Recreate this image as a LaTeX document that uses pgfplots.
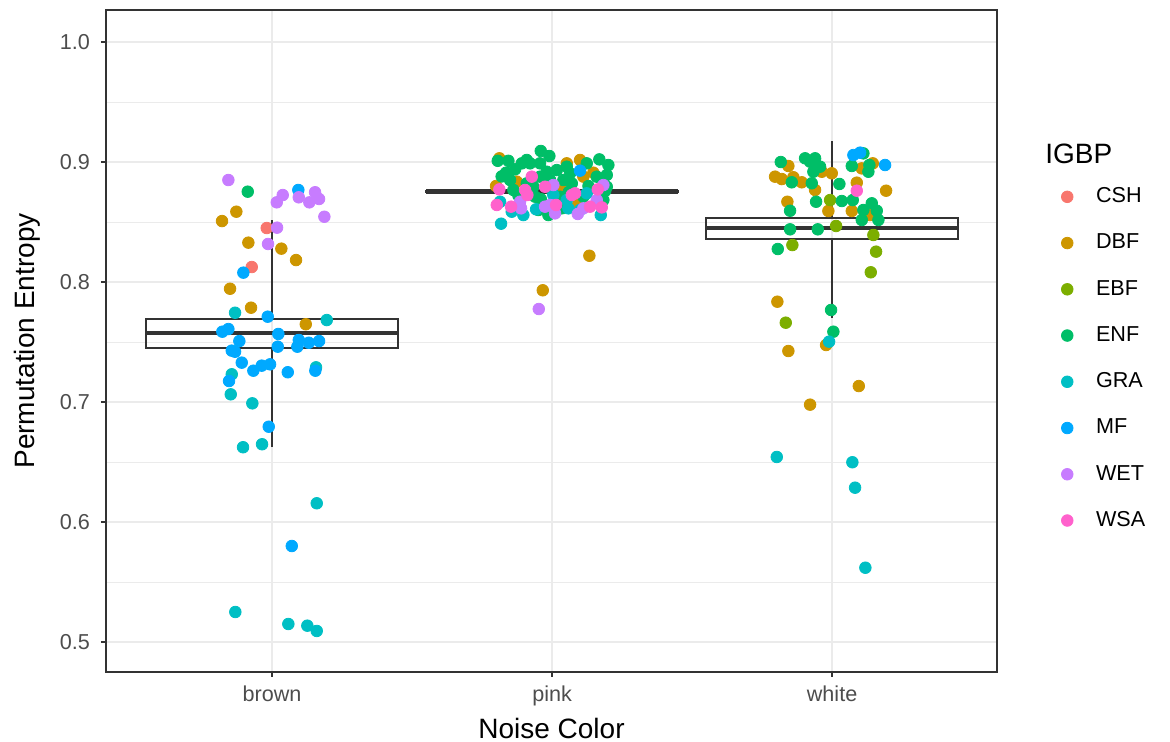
\documentclass[border=0pt]{standalone}
\usepackage{fontspec}
\setmainfont{Liberation Sans}
\usepackage{pgfplots}
\pgfplotsset{compat=1.18}
\definecolor{cCSH}{HTML}{F8766D}
\definecolor{cDBF}{HTML}{CD9600}
\definecolor{cEBF}{HTML}{7CAE00}
\definecolor{cENF}{HTML}{00BE67}
\definecolor{cGRA}{HTML}{00BFC4}
\definecolor{cMF}{HTML}{00A9FF}
\definecolor{cWET}{HTML}{C77CFF}
\definecolor{cWSA}{HTML}{FF61CC}
\definecolor{c33}{HTML}{333333}
\definecolor{c4d}{HTML}{4D4D4D}
\definecolor{gridc}{HTML}{EBEBEB}
\pgfplotsset{
  pt/.style={only marks, mark=*, mark size=2.9pt, mark options={draw=none, fill=#1}, color=#1},
  bx/.style={forget plot, color=c33, line width=1.1pt, mark=none},
  md/.style={forget plot, color=c33, line width=2.2pt, mark=none},
}
\begin{document}
\begin{tikzpicture}
\path[use as bounding box] (-53pt,-35pt) rectangle (532pt,336pt);
\begin{axis}[
  name=ax,
  at={(0,0)}, anchor=south west, scale only axis, width=445.5pt, height=331pt,
  xmin=-0.593, xmax=2.589, ymin=0.475, ymax=1.0267,
  xtick={0,1,2}, xticklabels={brown,pink,white},
  ytick={0.5,0.6,0.7,0.8,0.9,1.0},
  minor ytick={0.55,0.65,0.75,0.85,0.95},
  yticklabel style={/pgf/number format/fixed, /pgf/number format/precision=1, /pgf/number format/fixed zerofill, xshift=-2pt},
  xticklabel style={yshift=-1pt},
  /pgf/number format/assume math mode=true,
  grid=both,
  major grid style={color=gridc, line width=1pt},
  minor grid style={color=gridc, line width=0.5pt},
  minor tick length=0pt, major tick length=2.5pt, tick align=outside, tick pos=left,
  tick style={color=c33, line width=0.8pt},
  axis line style={color=c33, line width=0.8pt},
  ticklabel style={font=\fontsize{10.8}{12}\selectfont, color=c4d},
  xlabel={Noise Color}, ylabel={Permutation Entropy},
  label style={font=\fontsize{14}{16}\selectfont},
  xlabel style={at={(axis description cs:0.5,-0.0997)}, anchor=base},
  ylabel style={at={(axis description cs:-0.0887,0.5)}, anchor=center},
  legend style={at={(axis description cs:1.0564,0.7527)}, anchor=north west, draw=none, fill=none,
    inner sep=0pt, outer sep=0pt, row sep=0pt, font=\fontsize{10.8}{12}\selectfont,
    nodes={inner sep=0pt}},
  legend cell align=left,
  legend image code/.code={\path[draw=none,fill=none] (0pt,-11.56pt) rectangle (24.4pt,11.56pt); \draw[#1] plot coordinates {(10pt,0pt)};},
]
% boxplots: brown
\addplot[bx] coordinates {(-0.45,0.745) (0.45,0.745) (0.45,0.769) (-0.45,0.769)} -- cycle;
\addplot[bx] coordinates {(0,0.6625) (0,0.745)};
\addplot[bx] coordinates {(0,0.769) (0,0.8517)};
\addplot[md] coordinates {(-0.45,0.7575) (0.45,0.7575)};
% pink
\addplot[bx] coordinates {(0.55,0.8752) (1.45,0.8752) (1.45,0.8758) (0.55,0.8758)} -- cycle;
\addplot[md] coordinates {(0.55,0.8755) (1.45,0.8755)};
% white
\addplot[bx] coordinates {(1.55,0.8358) (2.45,0.8358) (2.45,0.8533) (1.55,0.8533)} -- cycle;
\addplot[bx] coordinates {(2,0.770) (2,0.8358)};
\addplot[bx] coordinates {(2,0.8533) (2,0.9175)};
\addplot[md] coordinates {(1.55,0.845) (2.45,0.845)};
% CSH
\addplot[pt=cCSH] coordinates {(-0.019,0.845) (-0.0725,0.8125)};
\addlegendentry{CSH}
% DBF
\addplot[pt=cDBF] coordinates {
(-0.1275,0.8586) (-0.1786,0.8508) (-0.0846,0.8328) (0.0332,0.8278) (0.0857,0.8183)
(-0.15,0.7944) (-0.075,0.7786) (0.1204,0.7648)
(0.8118,0.9031) (0.8,0.88) (0.8739,0.8836) (1.0525,0.8989) (1.1,0.9017) (1.1118,0.8878)
(1.1475,0.8911) (1.0286,0.8794) (1.0939,0.8656) (1.1332,0.8219) (0.9668,0.7931)
(1.8439,0.8967) (1.7964,0.8878) (1.8204,0.8858) (1.8618,0.8873) (1.8918,0.8831) (1.9632,0.8919)
(1.9393,0.8767) (1.9989,0.8906) (1.8404,0.8669) (1.9868,0.8592) (2.1454,0.8989) (2.106,0.8947)
(2.0882,0.8828) (2.1929,0.8761) (2.0704,0.8592) (2.1357,0.8558) (1.8046,0.7836) (1.9786,0.7475)
(1.8439,0.7425) (2.0954,0.7133) (1.9214,0.6978)};
\addlegendentry{DBF}
% EBF
\addplot[pt=cEBF] coordinates {
(1.9929,0.8683) (2.0143,0.8467) (1.8582,0.8308) (2.1475,0.8392) (2.1571,0.8253) (2.1382,0.8081) (1.8346,0.7661)};
\addlegendentry{EBF}
% ENF
\addplot[pt=cENF] coordinates {
(-0.0868,0.8753)
(0.806,0.901) (0.844,0.901) (0.9095,0.9017) (0.9596,0.9092) (0.9904,0.905) (0.8357,0.8911)
(0.8679,0.8939) (0.8918,0.8989) (0.9214,0.8989) (0.9571,0.8989) (0.9811,0.8919) (1.0525,0.8961)
(1.0643,0.8906) (1.1239,0.8989) (1.1689,0.9022) (1.2011,0.8975) (1.1954,0.8892) (1.1596,0.8878)
(0.8618,0.8767) (0.9332,0.8794) (0.9571,0.8878) (0.9929,0.885) (1.0404,0.885) (1.0704,0.8822)
(1.0286,0.8711) (1.0761,0.8739) (1.1832,0.8683) (0.9511,0.86) (0.9868,0.8558) (0.9096,0.8822)
(1.0168,0.8933) (0.85,0.885) (1.1118,0.8711) (1.1954,0.8794) (0.9393,0.8711) (1.0346,0.8614)
(0.88,0.872) (0.96,0.869) (1.0,0.876) (1.13,0.88) (1.06,0.875) (0.82,0.888) (1.19,0.876)
(1.8168,0.9) (1.856,0.8831) (1.9036,0.9031) (1.9393,0.9031) (1.9214,0.9003) (1.9571,0.8961)
(1.9332,0.8919) (1.9275,0.8823) (1.9429,0.8669) (1.85,0.8594) (1.85,0.8439) (1.9489,0.8439)
(1.8061,0.8275) (1.9964,0.7767) (2.0046,0.7586) (2.1118,0.9072) (2.0704,0.8967) (2.1332,0.8975)
(2.1296,0.8919) (2.0261,0.8817) (2.0346,0.8675) (2.0739,0.8683) (2.1418,0.8656) (2.1118,0.86)
(2.1596,0.8594) (2.1061,0.8517) (2.1654,0.8517)};
\addlegendentry{ENF}
% GRA
\addplot[pt=cGRA] coordinates {
(-0.1321,0.7744) (0.1954,0.7683) (-0.1439,0.7231) (0.1571,0.7289) (-0.1475,0.7064) (-0.0704,0.6989)
(-0.1036,0.6623) (-0.0357,0.6648) (0.1596,0.6156) (-0.1311,0.525) (0.0582,0.515) (0.126,0.5136)
(0.1596,0.5092)
(0.8143,0.8669) (0.856,0.8586) (0.8975,0.8558) (0.9429,0.8606) (1.0046,0.8725) (1.0582,0.8614)
(1.0525,0.8683) (1.1239,0.8739) (1.1739,0.8558) (1.1,0.86) (0.8179,0.8486)
(1.9893,0.7503) (1.8025,0.6542) (2.0725,0.6498) (2.0821,0.6286) (2.1189,0.5619)};
\addlegendentry{GRA}
% MF
\addplot[pt=cMF] coordinates {
(0.0939,0.8767) (-0.1025,0.8078) (-0.0154,0.7711) (-0.1775,0.7586) (-0.156,0.7608) (-0.1168,0.7508)
(0.0225,0.7567) (0.0204,0.7461) (0.0954,0.7517) (0.0904,0.7461) (0.1311,0.7494) (0.1679,0.7508)
(-0.1439,0.7428) (-0.1321,0.7419) (-0.1082,0.7328) (-0.0668,0.7261) (-0.0368,0.7303) (-0.0071,0.7314)
(-0.1536,0.7175) (0.0561,0.7248) (0.1546,0.7261) (-0.0118,0.6794) (0.0704,0.58)
(1.1,0.8928)
(2.0761,0.9058) (2.1,0.9078) (2.1893,0.8975)};
\addlegendentry{MF}
% WET
\addplot[pt=cWET] coordinates {
(-0.156,0.885) (0.0382,0.8725) (0.0168,0.8664) (0.0954,0.8706) (0.1536,0.8748) (0.1332,0.8664)
(0.1679,0.8692) (0.1868,0.8544) (0.0179,0.8453) (-0.0143,0.8317)
(0.8857,0.8669) (0.8893,0.8614) (1.0046,0.8808) (0.975,0.8628) (0.9929,0.8642) (1.0107,0.8572)
(1.1832,0.8808) (1.0918,0.8567) (1.1596,0.8683) (1.1118,0.8614) (0.9525,0.7775)};
\addlegendentry{WET}
% WSA
\addplot[pt=cWSA] coordinates {
(0.8118,0.8772) (0.8025,0.8642) (0.8536,0.8628) (0.9275,0.8878) (0.975,0.8794) (0.9036,0.8767)
(0.9118,0.8725) (1.0143,0.8642) (1.0704,0.8725) (1.0821,0.8739) (1.1632,0.8772) (1.1357,0.8628)
(1.1775,0.8622)
(2.0882,0.8761)};
\addlegendentry{WSA}
\end{axis}
\node[anchor=base west, font=\fontsize{14}{16}\selectfont, inner sep=0pt] at ([xshift=24pt,yshift=-76.65pt]ax.north east) {IGBP};
\end{tikzpicture}
\end{document}
